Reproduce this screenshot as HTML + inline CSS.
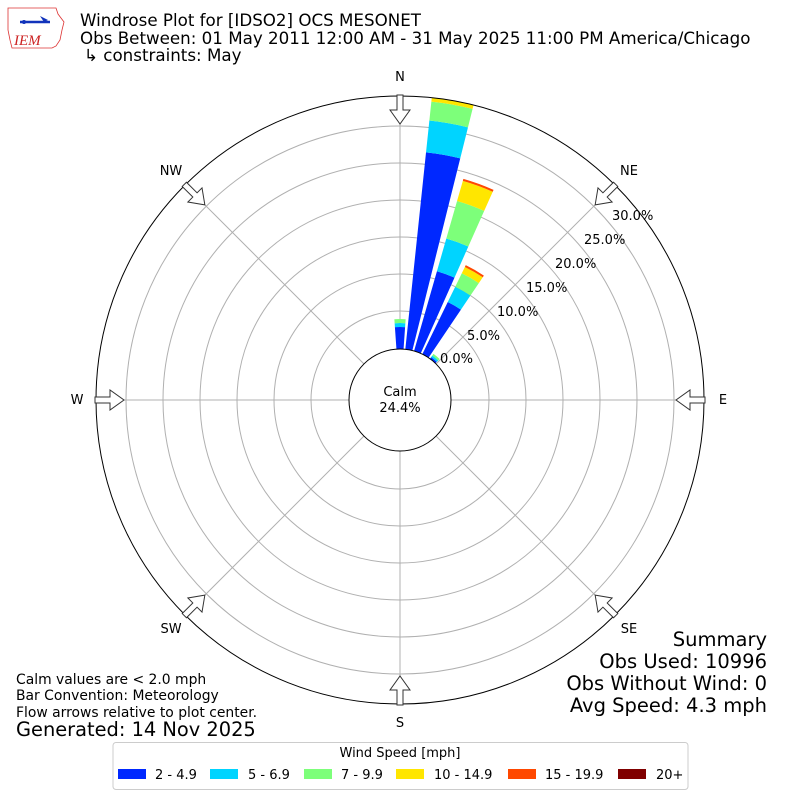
<!DOCTYPE html>
<html><head><meta charset="utf-8"><style>
body{margin:0;background:#fff}
svg{display:block;font-family:"DejaVu Sans","Liberation Sans",sans-serif}
</style></head><body>
<svg width="800" height="800" viewBox="0 0 800 800" xmlns="http://www.w3.org/2000/svg">
<rect width="800" height="800" fill="#fff"/>
<g>
<path d="M8 8 L56 8 L58 14 L64 22 L62 30 L60 40 L56 46 L52 48 L12 48 L10 40 L8 30 Z" fill="none" stroke="#d33" stroke-width="0.8"/>
<line x1="20" y1="22" x2="50" y2="22" stroke="#1133bb" stroke-width="2.5"/>
<circle cx="24" cy="22" r="2" fill="#1133bb"/>
<path d="M40 16 L48 20 L44 22 Z" fill="#1133bb"/>
<text x="14" y="45" font-family="Liberation Serif,serif" font-style="italic" font-size="15" fill="#c22">IEM</text>
</g>
<text x="80" y="26" font-size="16.7">Windrose Plot for [IDSO2] OCS MESONET</text>
<text x="80" y="44" font-size="16.7">Obs Between: 01 May 2011 12:00 AM - 31 May 2025 11:00 PM America/Chicago</text>
<text x="84" y="61" font-size="16.7">↳ constraints: May</text>

<g fill="none" stroke="#b0b0b0" stroke-width="1">
<circle cx="400" cy="400" r="89"/>
<circle cx="400" cy="400" r="126"/>
<circle cx="400" cy="400" r="163"/>
<circle cx="400" cy="400" r="200"/>
<circle cx="400" cy="400" r="237"/>
<circle cx="400" cy="400" r="274"/>
<line x1="400" y1="96" x2="400" y2="704"/>
<line x1="96" y1="400" x2="704" y2="400"/>
<line x1="185" y1="185" x2="615" y2="615"/>
<line x1="615" y1="185" x2="185" y2="615"/>
</g>

<g id="bars"></g>

<circle cx="400" cy="400" r="304" fill="none" stroke="#000" stroke-width="1"/>
<circle cx="400" cy="400" r="51" fill="#fff" stroke="#000" stroke-width="1"/>
<text x="400" y="396" font-size="13" text-anchor="middle">Calm</text>
<text x="400" y="412" font-size="13" text-anchor="middle">24.4%</text>

<g font-size="13">
<text x="440" y="363">0.0%</text>
<text x="467" y="340">5.0%</text>
<text x="497" y="316">10.0%</text>
<text x="526" y="292">15.0%</text>
<text x="555" y="268">20.0%</text>
<text x="584" y="244">25.0%</text>
<text x="612" y="220">30.0%</text>
</g>

<g font-size="13" text-anchor="middle">
<text x="400" y="81">N</text>
<text x="629" y="175">NE</text>
<text x="723" y="404">E</text>
<text x="629" y="633">SE</text>
<text x="400" y="727">S</text>
<text x="171" y="633">SW</text>
<text x="77" y="404">W</text>
<text x="171" y="175">NW</text>
</g>

<g id="arrows"></g>

<g font-size="13.9">
<text x="16" y="684">Calm values are &lt; 2.0 mph</text>
<text x="16" y="700">Bar Convention: Meteorology</text>
<text x="16" y="717">Flow arrows relative to plot center.</text>
</g>
<text x="16" y="736" font-size="19.4">Generated: 14 Nov 2025</text>
<g font-size="19.5" text-anchor="end">
<text x="767" y="646">Summary</text>
<text x="767" y="668">Obs Used: 10996</text>
<text x="767" y="690">Obs Without Wind: 0</text>
<text x="767" y="712">Avg Speed: 4.3 mph</text>
</g>

<rect x="113" y="742.5" width="575" height="47" rx="3" fill="#fff" stroke="#ccc"/>
<text x="400" y="757" font-size="13" text-anchor="middle">Wind Speed [mph]</text>
<g font-size="13">
<rect x="118" y="769" width="28" height="10" fill="#0028ff"/><text x="155" y="779">2 - 4.9</text>
<rect x="210" y="769" width="28" height="10" fill="#00d4ff"/><text x="248" y="779">5 - 6.9</text>
<rect x="304" y="769" width="28" height="10" fill="#7dff7a"/><text x="341" y="779">7 - 9.9</text>
<rect x="396" y="769" width="28" height="10" fill="#ffe600"/><text x="434" y="779">10 - 14.9</text>
<rect x="508" y="769" width="28" height="10" fill="#ff4800"/><text x="545" y="779">15 - 19.9</text>
<rect x="618" y="769" width="28" height="10" fill="#800000"/><text x="656" y="779">20+</text>
</g>
</svg>
<script>
var cols=["#0028ff","#00d4ff","#7dff7a","#ffe600","#ff4800"];
var bars=[
 [0,[51,73,77,81]],
 [10,[51,249,281,300,304]],
 [20,[51,134,168,207,228,230]],
 [30,[51,109,126,141,148,150]],
 [40,[51,53,55,57]]
];
var ns="http://www.w3.org/2000/svg",g=document.getElementById("bars");
function pt(a,r){var t=a*Math.PI/180;return (400+r*Math.sin(t)).toFixed(2)+" "+(400-r*Math.cos(t)).toFixed(2);}
bars.forEach(function(b){var c=b[0],rs=b[1],a1=c-4,a2=c+4;
 for(var i=0;i<rs.length-1;i++){var r0=rs[i],r1=rs[i+1];
  var d="M"+pt(a1,r0)+" L"+pt(a1,r1)+" A"+r1+" "+r1+" 0 0 1 "+pt(a2,r1)+" L"+pt(a2,r0)+" A"+r0+" "+r0+" 0 0 0 "+pt(a1,r0)+"Z";
  var p=document.createElementNS(ns,"path");p.setAttribute("d",d);p.setAttribute("fill",cols[i]);g.appendChild(p);}
});
var ag=document.getElementById("arrows");
for(var k=0;k<8;k++){var p=document.createElementNS(ns,"polygon");
 p.setAttribute("points","397,95 403,95 403,110 410,110 400,124 390,110 397,110");
 p.setAttribute("fill","#fff");p.setAttribute("stroke","#333");p.setAttribute("stroke-width","1");
 p.setAttribute("transform","rotate("+(k*45)+" 400 400)");ag.appendChild(p);}
</script>
</body></html>
